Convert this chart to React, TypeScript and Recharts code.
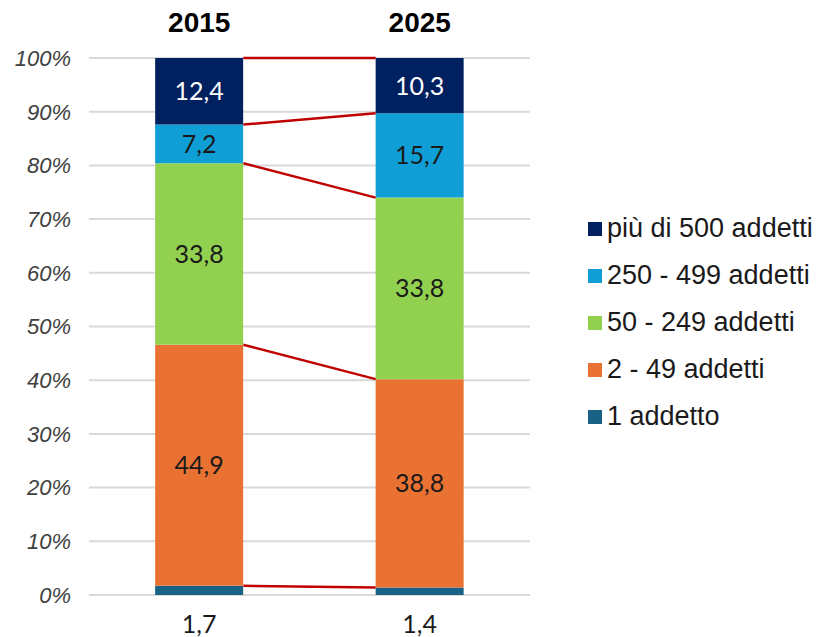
import React from 'react';
import { ComposedChart, Bar, Line, XAxis, YAxis, CartesianGrid, LabelList } from 'recharts';

// categories and series (values in %)
const years = ['2015', '2025'];
const seriesNames = ['1 addetto', '2 - 49 addetti', '50 - 249 addetti', '250 - 499 addetti', 'più di 500 addetti'];
const seriesColors = ['#1a6186', '#e97132', '#92d050', '#0f9ed5', '#002060'];
const labelColors = ['#1a1a1a', '#1a1a1a', '#1a1a1a', '#1a1a1a', '#ffffff'];
const addetto1 = [1.7, 1.4];
const addetti2_49 = [44.9, 38.8];
const addetti50_249 = [33.8, 33.8];
const addetti250_499 = [7.2, 15.7];
const addetti500 = [12.4, 10.3];
const yTicks = [0, 10, 20, 30, 40, 50, 60, 70, 80, 90, 100];

const seriesValues = [addetto1, addetti2_49, addetti50_249, addetti250_499, addetti500];

const GAP = 0.3; // category gap on each side of a bar
const rows = years.map((year, i) => {
    const row: Record<string, any> = { year };
    seriesValues.forEach((vals, k) => { row[`s${k}`] = vals[i]; });
    return row;
});

// series lines: from right edge of first bar to left edge of second bar, at each stack top
const halfBar = (1 - 2 * GAP) / 2;
const seriesLines = seriesValues.map((_, k) => {
    const cum = (i: number) => seriesValues.slice(0, k + 1).reduce((s, v) => s + v[i], 0);
    return [
        { x: 0.5 + halfBar, v: cum(0) },
        { x: 1.5 - halfBar, v: cum(1) },
    ];
});

const fmt = (v: any) => Number(v).toFixed(1).replace('.', ',');

export default function App() {
    return (
        <div style={{ position: 'absolute', left: 0, top: 0, width: 827, height: 637, background: '#fff' }}>
            <ComposedChart
                width={827}
                height={637}
                data={rows}
                margin={{ top: 0, right: 297, bottom: 42, left: 0 }}
                barCategoryGap={`${GAP * 100}%`}
            >
                <CartesianGrid vertical={false} stroke="#d9d9d9" strokeWidth={2} xAxisId="cat" />
                <XAxis
                    xAxisId="cat"
                    dataKey="year"
                    orientation="top"
                    height={58}
                    axisLine={false}
                    tickLine={false}
                    tickSize={0}
                    tickMargin={26}
                    tick={{ fill: '#000', fontSize: 28, fontWeight: 'bold', fontFamily: 'Liberation Sans, Arial' }}
                />
                <XAxis xAxisId="n" dataKey="x" type="number" domain={[0, 2]} allowDataOverflow hide />
                <YAxis
                    domain={[0, 100]}
                    ticks={yTicks}
                    tickFormatter={(v) => `${v}%`}
                    axisLine={false}
                    tickLine={false}
                    tickSize={0}
                    tickMargin={18}
                    width={89}
                    tick={{ fill: '#404040', fontSize: 22, fontStyle: 'italic', fontFamily: 'Liberation Sans, Arial' }}
                />
                {seriesValues.map((_, k) => (
                    <Bar
                        key={k}
                        xAxisId="cat"
                        dataKey={`s${k}`}
                        stackId="a"
                        fill={seriesColors[k]}
                        isAnimationActive={false}
                    >
                        <LabelList
                            dataKey={`s${k}`}
                            position={k === 0 ? 'bottom' : 'center'}
                            offset={k === 0 ? 20 : 5}
                            formatter={fmt}
                            fill={labelColors[k]}
                            style={{ fontSize: 25, fontFamily: 'Lato, Liberation Sans' }}
                        />
                    </Bar>
                ))}
                {seriesLines.map((pts, k) => (
                    <Line
                        key={`l${k}`}
                        xAxisId="n"
                        data={pts}
                        dataKey="v"
                        stroke="#c00000"
                        strokeWidth={2.5}
                        dot={false}
                        activeDot={false}
                        legendType="none"
                        isAnimationActive={false}
                    />
                ))}
            </ComposedChart>
            <div style={{ position: 'absolute', left: 588, top: 205, fontFamily: 'Liberation Sans, Arial', fontSize: 27, color: '#1a1a1a' }}>
                {seriesNames.map((_, i) => {
                    const k = seriesNames.length - 1 - i;
                    return (
                        <div key={k} style={{ height: 47, display: 'flex', alignItems: 'center', whiteSpace: 'nowrap' }}>
                            <span style={{ display: 'inline-block', width: 14, height: 14, background: seriesColors[k], marginRight: 5 }} />
                            {seriesNames[k]}
                        </div>
                    );
                })}
            </div>
        </div>
    );
}
